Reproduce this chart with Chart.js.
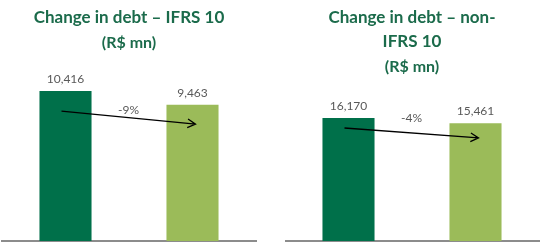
<!DOCTYPE html>
<html>
<head>
<meta charset="utf-8">
<script src="https://cdn.jsdelivr.net/npm/chart.js@4/dist/chart.umd.min.js"></script>
<style>
  html, body { margin: 0; padding: 0; background: #fff; overflow: hidden; }
  #wrap { position: relative; width: 541px; height: 244px; }
  canvas { position: absolute; top: 0; }
  #left { left: 0; }
  #right { left: 285px; }
</style>
</head>
<body>
<div id="wrap">
  <canvas id="left" width="290" height="244"></canvas>
  <canvas id="right" width="264" height="244"></canvas>
</div>
<script>
// periods compared (no axis labels shown in the picture)
const periods = ["Before", "After"];

// debt, R$ mn
const ifrsValues = [10416, 9463];
const nonIfrsValues = [16170, 15461];

// change labels and the trend arrow (start / end in R$ mn)
const ifrsChange = "-9%";
const nonIfrsChange = "-4%";
const ifrsChangeAt = 9100;
const nonIfrsChangeAt = 16170;
const ifrsArrow = [9030, 8120];
const nonIfrsArrow = [14850, 13540];

const barColors = ["#00704A", "#9BBB59"];
const green = "#1B6B4B";
const gray = "#595959";

const annotate = {
  id: "annotate",
  afterDatasetsDraw(chart, args, opts) {
    const ctx = chart.ctx;
    const xs = chart.scales.x;
    const ys = chart.scales.y;
    const meta = chart.getDatasetMeta(0);
    const values = chart.data.datasets[0].data;

    ctx.save();
    ctx.font = "12px Lato";
    ctx.fillStyle = gray;
    ctx.textAlign = "center";
    ctx.textBaseline = "middle";
    meta.data.forEach((bar, i) => {
      ctx.fillText(values[i].toLocaleString("en-US"), bar.x, bar.y - 12);
    });

    // arrow from first bar to second bar
    const x0 = xs.getPixelForValue(0) - 4;
    const y0 = ys.getPixelForValue(opts.arrow[0]);
    const x1 = xs.getPixelForValue(1) + 3;
    const y1 = ys.getPixelForValue(opts.arrow[1]);
    ctx.strokeStyle = "#000";
    ctx.lineWidth = 1.3;
    ctx.beginPath();
    ctx.moveTo(x0, y0);
    ctx.lineTo(x1, y1);
    const a = Math.atan2(y1 - y0, x1 - x0);
    const len = 9;
    ctx.moveTo(x1 - len * Math.cos(a - 0.5), y1 - len * Math.sin(a - 0.5));
    ctx.lineTo(x1, y1);
    ctx.lineTo(x1 - len * Math.cos(a + 0.5), y1 - len * Math.sin(a + 0.5));
    ctx.stroke();

    ctx.fillStyle = gray;
    ctx.fillText(opts.change, (x0 + x1) / 2, ys.getPixelForValue(opts.changeAt));
    ctx.restore();
  }
};

function makeChart(id, titleText, values, yMax, pad, change, changeAt, arrow) {
  return new Chart(document.getElementById(id), {
    type: "bar",
    data: {
      labels: periods,
      datasets: [{
        data: values,
        backgroundColor: barColors,
        barPercentage: 1,
        categoryPercentage: 0.41
      }]
    },
    options: {
      responsive: false,
      animation: false,
      devicePixelRatio: 1,
      layout: { padding: pad },
      scales: {
        x: {
          grid: { display: false },
          ticks: { display: false },
          border: { display: true, color: "#8C8C8C", width: 2 }
        },
        y: {
          display: false,
          min: 0,
          max: yMax
        }
      },
      plugins: {
        legend: { display: false },
        tooltip: { enabled: false },
        title: {
          display: true,
          text: titleText,
          color: green,
          font: { family: "Lato", size: 17, weight: "bold", lineHeight: 1.45 },
          padding: { top: 5, bottom: 0 }
        },
        subtitle: {
          display: true,
          text: "(R$ mn)",
          color: green,
          font: { family: "Lato", size: 16, weight: "bold", lineHeight: 1.2 },
          padding: { top: 3.25, bottom: 9 }
        },
        annotate: { change: change, changeAt: changeAt, arrow: arrow }
      }
    },
    plugins: [annotate]
  });
}

makeChart("left", "Change in debt – IFRS 10", ifrsValues, 12500,
  { left: 2, right: 34, bottom: -5 }, ifrsChange, ifrsChangeAt, ifrsArrow);
makeChart("right", ["Change in debt – non-", "IFRS 10"], nonIfrsValues, 20400,
  { left: 0, right: 10, bottom: -5 }, nonIfrsChange, nonIfrsChangeAt, nonIfrsArrow);
</script>
</body>
</html>
